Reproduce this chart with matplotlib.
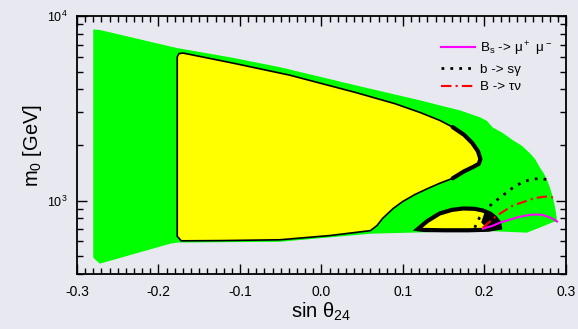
import numpy as np
import matplotlib
matplotlib.use("Agg")
import matplotlib.pyplot as plt
from matplotlib.ticker import MultipleLocator, LogLocator, NullFormatter

plt.rcParams['font.family'] = ['Liberation Sans', 'DejaVu Sans']
plt.rcParams['mathtext.default'] = 'regular'

# allowed region (green)
green_x = [-0.280, -0.272, -0.177, -0.110, -0.051, 0.041, 0.121, 0.145, 0.170, 0.195,
           0.203, 0.210, 0.222, 0.235, 0.246, 0.256, 0.262, 0.268, 0.273, 0.278,
           0.281, 0.284, 0.287, 0.289, 0.283, 0.270, 0.252, 0.235, 0.200, 0.120,
           0.060, -0.051, -0.177, -0.186, -0.272, -0.280]
green_y = [8450, 8400, 6700, 5950, 5280, 4220, 3490, 3280, 3080, 2820,
           2700, 2490, 2330, 2120, 1980, 1800, 1680, 1510, 1400, 1255,
           1150, 1040, 900, 778, 760, 720, 670, 675, 685, 672,
           661, 598, 592, 583, 455, 490]

# large yellow region
yel_x = [-0.177, -0.175, -0.170, -0.109, -0.039, 0.041, 0.090, 0.121, 0.145, 0.161,
         0.175, 0.185, 0.192, 0.195, 0.193, 0.186, 0.175, 0.161, 0.145, 0.130,
         0.115, 0.100, 0.088, 0.075, 0.068, 0.060, 0.010, -0.051, -0.120, -0.172,
         -0.177]
yel_y = [6000, 6250, 6300, 5560, 4780, 3860, 3350, 3000, 2720, 2500,
         2270, 2050, 1850, 1680, 1580, 1520, 1440, 1320, 1240, 1160,
         1080, 990, 906, 800, 731, 687, 646, 613, 607, 605,
         640]

# small yellow island
isl_x = [0.118, 0.130, 0.145, 0.160, 0.174, 0.188, 0.198, 0.207, 0.213, 0.218,
         0.219, 0.205, 0.180, 0.150, 0.125, 0.118]
isl_y = [700, 775, 851, 890, 906, 902, 883, 850, 810, 760,
         713, 695, 690, 690, 693, 700]

# black filled part of the island
blk_x = [0.200, 0.207, 0.213, 0.218, 0.219, 0.205, 0.196]
blk_y = [860, 850, 810, 760, 713, 695, 760]

# constraint curves
bs_x = [0.198, 0.210, 0.219, 0.230, 0.240, 0.250, 0.260, 0.270, 0.277, 0.283, 0.289]
bs_y = [705, 730, 759, 785, 810, 828, 840, 838, 819, 800, 770]

bsg_x = [0.188, 0.194, 0.204, 0.219, 0.235, 0.245, 0.256, 0.268, 0.276]
bsg_y = [713, 810, 917, 1038, 1175, 1245, 1300, 1318, 1300]

btn_x = [0.198, 0.215, 0.235, 0.250, 0.260, 0.270, 0.277, 0.284]
btn_y = [713, 828, 940, 990, 1026, 1045, 1052, 1038]

bg = '#e8e8f0'
fig = plt.figure(figsize=(5.78, 3.29), dpi=100, facecolor=bg)
ax = fig.add_axes([0.1332, 0.1672, 0.846, 0.7842])
ax.set_facecolor(bg)

ax.fill(green_x, green_y, color='#00ff00', lw=0)
ax.fill(yel_x, yel_y, facecolor='#ffff00', edgecolor='black', lw=1.2)
# thick outline around the tip of the big region
ax.plot(yel_x[9:18], yel_y[9:18], color='black', lw=3, solid_capstyle='round')
ax.fill(isl_x, isl_y, facecolor='#ffff00', edgecolor='black', lw=3)
ax.fill(blk_x, blk_y, color='black', lw=0)

ax.plot(bs_x, bs_y, color='#ff00ff', lw=1.5, label='B$_s$ -> μ$^+$ μ$^-$')
ax.plot(bsg_x, bsg_y, color='black', lw=2, ls=(0, (1, 2.2)), label='b -> sγ')
ax.plot(btn_x, btn_y, color='red', lw=1.5, ls=(0, (5, 2, 1, 2)), label='B -> τν')

ax.set_yscale('log')
ax.set_xlim(-0.3, 0.3)
ax.set_ylim(400, 10000)
ax.xaxis.set_major_locator(MultipleLocator(0.1))
ax.xaxis.set_minor_locator(MultipleLocator(0.01))
ax.yaxis.set_major_locator(LogLocator(base=10, numticks=5))
ax.yaxis.set_minor_locator(LogLocator(base=10, subs=np.arange(2, 10), numticks=20))
ax.yaxis.set_minor_formatter(NullFormatter())
ax.set_xticks([-0.3, -0.2, -0.1, 0.0, 0.1, 0.2, 0.3])
ax.set_xticklabels(['-0.3', '-0.2', '-0.1', '0.0', '0.1', '0.2', '0.3'])

ax.tick_params(which='both', direction='in', top=True, right=True, width=1)
ax.tick_params(which='major', length=7)
ax.tick_params(which='minor', length=4)
ax.tick_params(axis='x', labelsize=10, pad=8)
ax.tick_params(axis='y', labelsize=9, pad=7)
for s in ax.spines.values():
    s.set_linewidth(1.3)

ax.set_xlabel('sin θ$_{24}$', fontsize=14.5, labelpad=1)
ax.set_ylabel('m$_0$ [GeV]', fontsize=14.5, labelpad=2)

ax.legend(loc='upper right', bbox_to_anchor=(0.99, 0.945), frameon=False,
          fontsize=9.7, handlelength=2.5, handletextpad=0.35, labelspacing=0.4,
          borderaxespad=0.3)

fig.savefig('out.png', dpi=100, facecolor=bg)
